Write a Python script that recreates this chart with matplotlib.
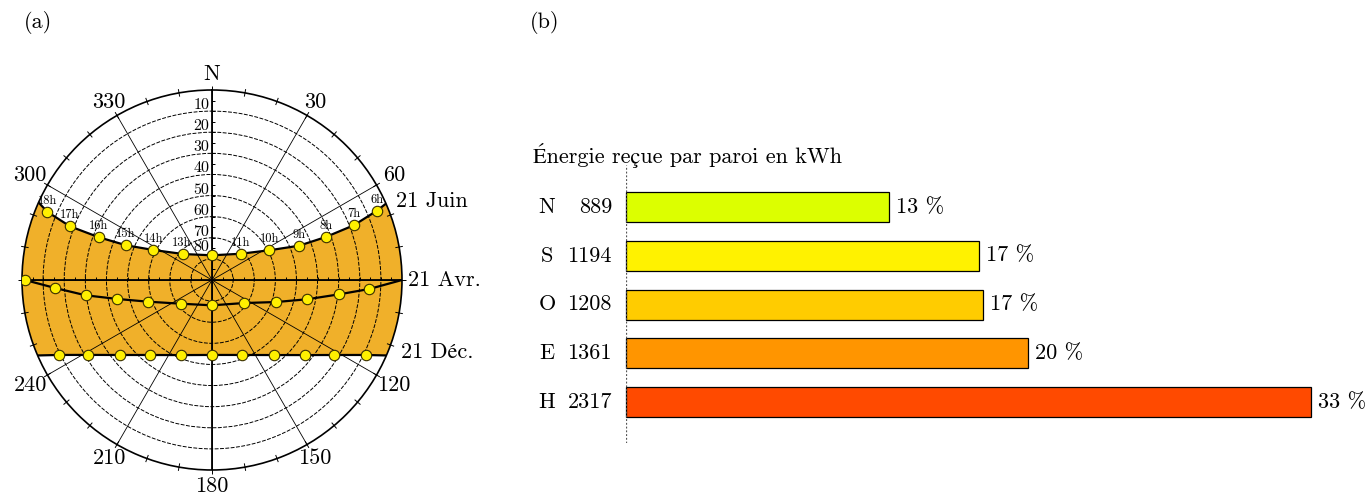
import numpy as np
import matplotlib.pyplot as plt

plt.rcParams['font.family'] = ['cmr10', 'STIXGeneral']
plt.rcParams['mathtext.fontset'] = 'cm'
plt.rcParams['axes.unicode_minus'] = False

# ---- (a) sun paths: azimuth (deg from N, clockwise) / altitude (deg) ----
june_hours = ['6h', '7h', '8h', '9h', '10h', '11h', '12h', '13h', '14h', '15h', '16h', '17h', '18h']
june_az = [67.2, 68.9, 69.3, 68.5, 62.6, 47.5, 0.0, -47.8, -62.9, -68.0, -69.3, -69.3, -67.5]
june_alt = [5.2, 18.0, 32.4, 45.7, 59.4, 71.6, 78.3, 71.7, 58.8, 46.1, 32.6, 18.1, 5.5]
june_rise = (66.3, 0.0)
june_set = (-65.9, 0.0)

equi_az = [93.3, 96.4, 101.4, 108.9, 125.7, 180.0, 232.9, 251.2, 258.7, 263.1, 267.1, 270.0]
equi_alt = [15.5, 29.3, 43.9, 57.8, 71.3, 78.0, 71.4, 58.1, 44.2, 29.7, 15.5, 1.4]
equi_rise = (90.0, 0.0)

dec_az = [116.0, 121.6, 129.0, 140.6, 158.0, 180.0, 202.5, 219.6, 230.8, 238.8, 243.9]
dec_alt = [9.0, 22.2, 33.5, 44.0, 51.7, 54.5, 51.5, 43.9, 33.8, 21.5, 9.3]
dec_rise = (113.4, 0.0)
dec_set = (246.6, 0.0)

alt_rings = [10, 20, 30, 40, 50, 60, 70, 80]
az_labels = {0: 'N', 30: '30', 60: '60', 120: '120', 150: '150', 180: '180',
             210: '210', 240: '240', 300: '300', 330: '330'}

# ---- (b) energy per wall ----
walls = ['N', 'S', 'O', 'E', 'H']
energy = [889, 1194, 1208, 1361, 2317]
shares = [13, 17, 17, 20, 33]
bar_colors = ['#DCFF00', '#FFF200', '#FFCC00', '#FF9500', '#FF4A00']

W, H = 1369, 495
fig = plt.figure(figsize=(W / 100, H / 100), dpi=100)
FS = 16

def zen(alt):
    return 90 - np.asarray(alt, dtype=float)

ax = fig.add_axes([(212 - 190) / W, (H - 470) / H, 380 / W, 380 / H], projection='polar')
ax.set_theta_zero_location('N')
ax.set_theta_direction(-1)

# band between 21 June and 21 December paths (closed outside the rim, clipped by the circle)
far = 130
band_t = ([june_rise[0]] + june_az + [june_set[0], june_set[0], -90, dec_set[0] - 360]
          + [a - 360 for a in [dec_set[0]] + dec_az[::-1] + [dec_rise[0]]]
          + [dec_rise[0] - 360, -270, june_rise[0] - 360])
band_r = ([90] + list(zen(june_alt)) + [90, far, far, far]
          + [90] + list(zen(dec_alt[::-1])) + [90]
          + [far, far, far])
ax.fill(np.deg2rad(band_t), band_r, color='#F0B02A', lw=0, zorder=1)

ax.set_thetagrids(range(0, 360, 30), labels=[''] * 12)
ax.set_rgrids(alt_rings, labels=[''] * len(alt_rings))
ax.xaxis.grid(True, color='black', lw=0.6, ls='-')
ax.yaxis.grid(True, color='black', lw=0.7, ls=(0, (4, 1.5)))
ax.spines['polar'].set_linewidth(1.2)
ax.set_rlim(0, 90)

# main axes N-S / E-W
for a in [0, 90, 180, 270]:
    ax.plot(np.deg2rad([a, a]), [0, 90], color='black', lw=1.3, zorder=3)
ticks_r = np.arange(5.0, 90.0, 5.0)
tick_style = dict(ls='none', ms=2.5, mew=0.7, color='black', zorder=3)
ax.plot(np.zeros_like(ticks_r), ticks_r, marker=1, **tick_style)
ax.plot(np.full_like(ticks_r, np.pi / 2), ticks_r, marker=2, **tick_style)
ax.plot(np.full_like(ticks_r, 3 * np.pi / 2), ticks_r, marker=2, **tick_style)
# rim ticks every 10 deg
rim = np.deg2rad(np.arange(0.0, 360.0, 10.0))
ax.vlines(rim, 88.2, 91.8, color='black', lw=0.7, clip_on=False, zorder=3)

# paths
dot = dict(ls='none', marker='o', ms=7.5, mfc='#FFF000', mec='#3A3000', mew=0.8, zorder=5)
ax.plot(np.deg2rad([june_rise[0]] + june_az + [june_set[0]]), [90] + list(zen(june_alt)) + [90],
        color='black', lw=1.6, zorder=4)
ax.plot(np.deg2rad(june_az), zen(june_alt), **dot)
ax.plot(np.deg2rad([equi_rise[0]] + equi_az), [90] + list(zen(equi_alt)), color='black', lw=1.6, zorder=4)
ax.plot(np.deg2rad(equi_az), zen(equi_alt), **dot)
ax.plot(np.deg2rad([dec_rise[0]] + dec_az + [dec_set[0]]), [90] + list(zen(dec_alt)) + [90],
        color='black', lw=1.6, zorder=4)
ax.plot(np.deg2rad(dec_az), zen(dec_alt), **dot)

for hh, a, al in zip(june_hours, june_az, june_alt):
    if hh == '12h':
        continue
    dx = -1.5 if hh == '13h' else 0
    ax.annotate(hh, (np.deg2rad(a), 90 - al), xytext=(dx, 8), textcoords='offset points',
                ha='center', va='center', fontsize=9, zorder=6)

for al in alt_rings:
    lift = 5.5 if al == 80 else 2.8
    ax.annotate(str(al), (0, 90 - al + lift), xytext=(-2, 0), textcoords='offset points',
                ha='right', va='center', fontsize=11.5, zorder=6)

for a, lab in az_labels.items():
    rr = 99.5 if a in (60, 120, 240, 300) else 97.5
    ax.text(np.deg2rad(a), rr, lab, ha='center', va='center', fontsize=FS, clip_on=False)

fig.text(396 / W, 1 - 201 / H, '21 Juin', ha='left', va='center', fontsize=FS)
fig.text(408 / W, 1 - 280 / H, '21 Avr.', ha='left', va='center', fontsize=FS)
fig.text(401 / W, 1 - 352 / H, '21 Déc.', ha='left', va='center', fontsize=FS)
fig.text(38 / W, 1 - 22 / H, '(a)', ha='center', va='center', fontsize=FS)
fig.text(545 / W, 1 - 22 / H, '(b)', ha='center', va='center', fontsize=FS)

# ---- (b) bars ----
axb = fig.add_axes([626 / W, (H - 443) / H, 685 / W, (443 - 165) / H])
ypos = np.arange(len(walls))
axb.barh(ypos, energy, height=0.615, color=bar_colors, edgecolor='black', lw=0.9, clip_on=False)
axb.set_xlim(0, max(energy))
axb.set_ylim(4.841, -0.862)
axb.axvline(0, color='#555555', ls=(0, (1.5, 1.5)), lw=0.9)
axb.axis('off')
for y, w, e, s in zip(ypos, walls, energy, shares):
    axb.annotate(w, (0, y), xytext=(-79 * 0.72, 0), textcoords='offset points',
                 ha='center', va='center', fontsize=FS, annotation_clip=False)
    axb.annotate(str(e), (0, y), xytext=(-14 * 0.72, 0), textcoords='offset points',
                 ha='right', va='center', fontsize=FS, annotation_clip=False)
    axb.annotate(f'{s} %', (e, y), xytext=(7 * 0.72, 0), textcoords='offset points',
                 ha='left', va='center', fontsize=FS, annotation_clip=False)
fig.text(533 / W, 1 - 156 / H, 'Énergie reçue par paroi en kWh', ha='left', va='center', fontsize=FS)

fig.savefig('out.png', dpi=100)
